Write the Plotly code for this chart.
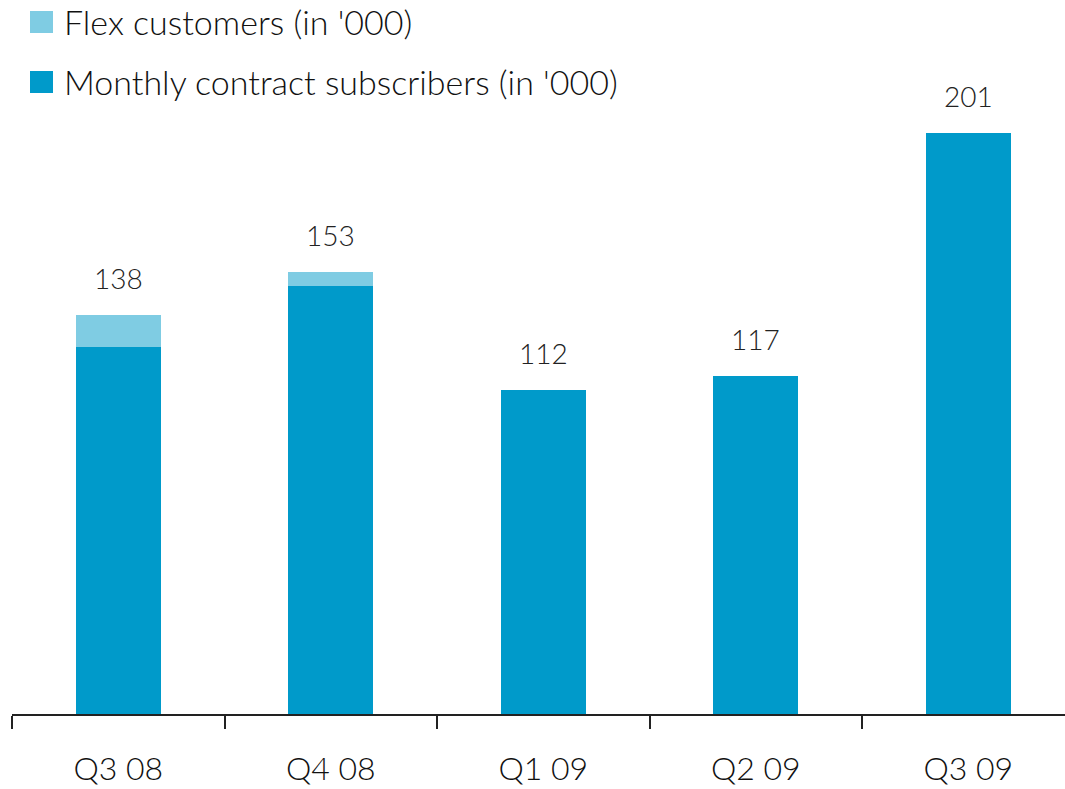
import plotly.graph_objects as go

quarters = ["Q3 08", "Q4 08", "Q1 09", "Q2 09", "Q3 09"]
monthly = [127, 148, 112, 117, 201]
flex = [11, 5, 0, 0, 0]
totals = [138, 153, 112, 117, 201]

c_monthly = "#009ACA"
c_flex = "#7FCCE3"
font_family = "Lato"

fig = go.Figure()
fig.add_trace(go.Bar(x=quarters, y=monthly, marker_color=c_monthly, width=0.4,
                     marker_line_width=0, name="Monthly contract subscribers (in '000)"))
fig.add_trace(go.Bar(x=quarters, y=flex, marker_color=c_flex, width=0.4,
                     marker_line_width=0, name="Flex customers (in '000)"))

for q, t in zip(quarters, totals):
    fig.add_annotation(x=q, y=t, text=str(t), showarrow=False, yanchor="bottom",
                       yshift=18, font=dict(size=28, color="#222", family=font_family, weight=300))

W, H = 1065, 789
L, R, T, B = 12, 0, 80, 75
pw, ph = W - L - R, H - T - B

def px(x):
    return (x - L) / pw

def py(y):
    return (H - B - y) / ph

legend_items = [("Flex customers (in '000)", c_flex, 22),
                ("Monthly contract subscribers (in '000)", c_monthly, 82)]
for label, col, yc in legend_items:
    fig.add_shape(type="rect", xref="paper", yref="paper",
                  x0=px(30), x1=px(53), y0=py(yc - 11), y1=py(yc + 11),
                  fillcolor=col, line_width=0)
    fig.add_annotation(xref="paper", yref="paper", x=px(62), y=py(yc), text=label,
                       showarrow=False, xanchor="left", yanchor="middle",
                       font=dict(size=34, color="#111", family=font_family, weight=300))

fig.update_layout(
    barmode="stack", width=W, height=H, showlegend=False,
    margin=dict(l=L, r=R, t=T, b=B),
    plot_bgcolor="white", paper_bgcolor="white",
    font=dict(family=font_family, color="#111"),
    bargap=0.6,
)
fig.update_xaxes(range=[-0.5, 4.455], showline=True, linecolor="#222", linewidth=2,
                 ticks="outside", tickson="boundaries", ticklen=13, tickcolor="#222",
                 tickwidth=1.5, showgrid=False,
                 tickfont=dict(size=32, family=font_family, color="#111", weight=300),
                 ticklabelstandoff=26)
fig.update_yaxes(range=[0, 634 / 2.89], visible=False, showgrid=False, zeroline=False)

fig.write_html("out.html")
